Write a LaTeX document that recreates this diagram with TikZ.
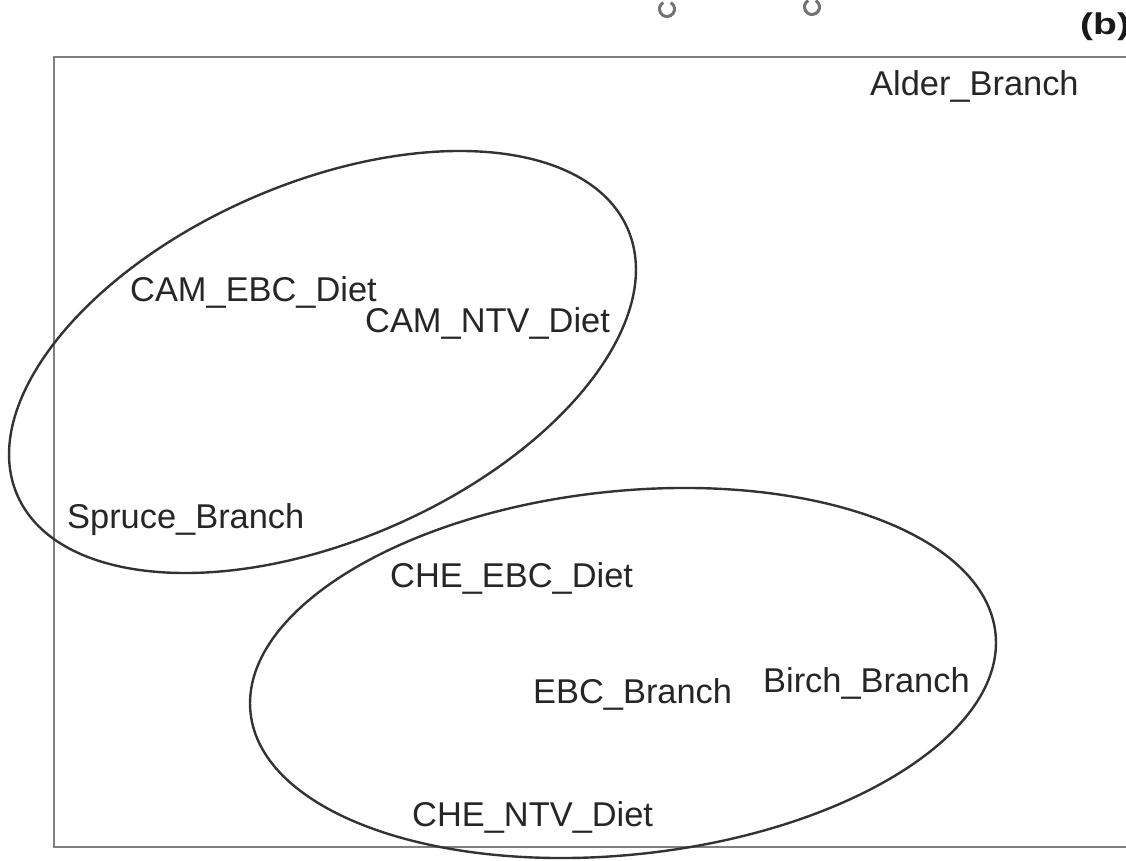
\documentclass[tikz,border=0pt]{standalone}
\usepackage{fontspec}
\setmainfont{Liberation Sans}
\begin{document}
\begin{tikzpicture}[x=1pt,y=1pt,
  lbl/.style={anchor=base west, inner sep=0pt, text=black!85, font=\fontsize{34.4}{40}\selectfont},
  frame/.style={draw=black!50, line width=2.6pt},
  grp/.style={draw=black!80, line width=2.4pt},
  ringmark/.style={draw=black!55, line width=3pt}]
\useasboundingbox (0,0) rectangle (1126,860);
\clip (0,0) rectangle (1126,860);
\fill[white] (0,0) rectangle (1126,860);
% plot frame (right edge lies outside the picture)
\draw[frame] (54,803) rectangle (1150,13);
% cut-off markers from the panel above
\draw[ringmark] ([shift={(120:7.5)}]667,851) arc[start angle=120, end angle=420, radius=7.5];
\draw[ringmark] ([shift={(120:7.5)}]812,853) arc[start angle=120, end angle=420, radius=7.5];
% panel label
\node[anchor=base west, inner sep=0pt, text=black!90] (panel) at (1080,825)
  {\scalebox{1.3}[1]{\fontsize{30}{36}\selectfont\bfseries (b)}};
% group ellipses
\draw[grp, shift={(322.5,498)}, rotate=23.6] (0,0) ellipse [x radius=333pt, y radius=178.5pt];
\draw[grp, shift={(623,187)}, rotate=6.1] (0,0) ellipse [x radius=374.6pt, y radius=181.7pt];
% labels
\node[lbl] (alder) at (870,764) {Alder\_Branch};
\node[lbl] (camebc) at (130,558) {CAM\_EBC\_Diet};
\node[lbl] (camntv) at (365,527) {CAM\_NTV\_Diet};
\node[lbl] (spruce) at (67,332) {Spruce\_Branch};
\node[lbl] (cheebc) at (390,273) {CHE\_EBC\_Diet};
\node[lbl] (ebc) at (533,157) {EBC\_Branch};
\node[lbl] (birch) at (763,168) {Birch\_Branch};
\node[lbl] (chentv) at (412,34) {CHE\_NTV\_Diet};
\end{tikzpicture}
\end{document}
